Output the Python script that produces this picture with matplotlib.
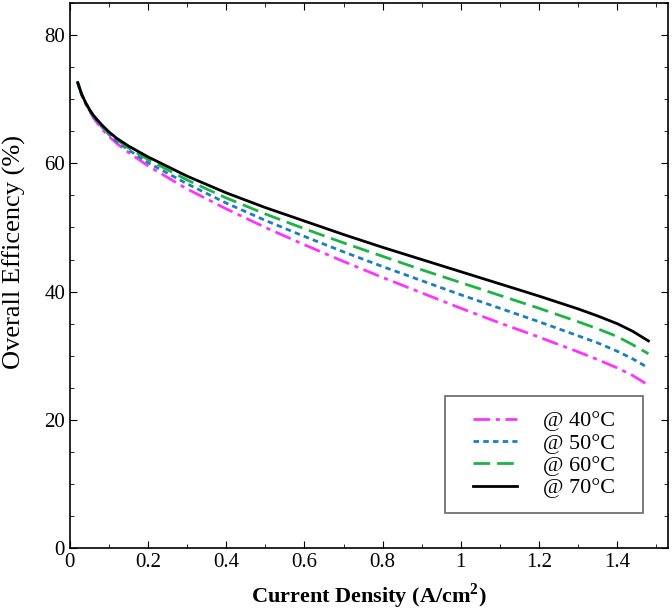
import matplotlib
matplotlib.use("Agg")
import matplotlib.pyplot as plt
from matplotlib.ticker import MultipleLocator
from matplotlib.patches import Rectangle

x = [0.02, 0.03, 0.04, 0.05, 0.06, 0.08, 0.1, 0.12, 0.15, 0.2, 0.3, 0.4, 0.5, 0.6, 0.7, 0.8, 0.9, 1.0, 1.1, 1.2, 1.3, 1.35, 1.4, 1.44, 1.48]
eff_40 = [72.6, 70.7, 69.3, 68.2, 67.1, 65.5, 64.2, 63.1, 61.7, 59.6, 56.0, 52.9, 50.0, 47.3, 44.7, 42.2, 39.8, 37.4, 35.1, 32.9, 30.6, 29.4, 28.1, 26.9, 25.4]
eff_50 = [72.6, 70.7, 69.4, 68.3, 67.3, 65.8, 64.5, 63.4, 62.1, 60.1, 56.8, 53.8, 51.1, 48.6, 46.2, 43.9, 41.7, 39.5, 37.4, 35.3, 33.1, 32.0, 30.7, 29.5, 28.1]
eff_60 = [72.6, 70.8, 69.5, 68.4, 67.4, 66.0, 64.7, 63.7, 62.4, 60.6, 57.4, 54.6, 52.1, 49.8, 47.6, 45.5, 43.4, 41.4, 39.4, 37.4, 35.3, 34.2, 33.0, 31.7, 30.3]
eff_70 = [72.6, 70.8, 69.5, 68.4, 67.5, 66.1, 64.9, 63.9, 62.7, 61.0, 58.0, 55.4, 53.1, 51.0, 48.9, 46.9, 45.0, 43.1, 41.2, 39.3, 37.3, 36.2, 35.0, 33.8, 32.3]
labels = ["@ 40°C", "@ 50°C", "@ 60°C", "@ 70°C"]
xticks = [0, 0.2, 0.4, 0.6, 0.8, 1, 1.2, 1.4]
xticklabels = ["0", "0.2", "0.4", "0.6", "0.8", "1", "1.2", "1.4"]
yticks = [0, 20, 40, 60, 80]

plt.rcParams['font.family'] = ['Liberation Serif', 'DejaVu Serif']
plt.rcParams['mathtext.fontset'] = 'custom'
plt.rcParams['mathtext.rm'] = 'Liberation Serif'
plt.rcParams['mathtext.bf'] = 'Liberation Serif:bold'
fig = plt.figure(figsize=(6.72, 6.13), dpi=100)
ax = fig.add_axes([0.104, 0.106, 0.89, 0.889])

ax.plot(x, eff_40, color="#FF33FF", lw=2, linestyle=(0, (6, 2, 1.5, 2)), label=labels[0])
ax.plot(x, eff_50, color="#1A7FC1", lw=2, linestyle=(0, (2, 1.5)), label=labels[1])
ax.plot(x, eff_60, color="#1DB446", lw=2, linestyle=(0, (6, 2.5)), label=labels[2])
ax.plot(x, eff_70, color="black", lw=2, linestyle="-", label=labels[3])

ax.set_xlim(0, 1.53)
ax.set_ylim(0, 85)
ax.set_xticks(xticks)
ax.set_xticklabels(xticklabels)
ax.set_yticks(yticks)
ax.xaxis.set_minor_locator(MultipleLocator(0.1))
ax.yaxis.set_minor_locator(MultipleLocator(5))
ax.tick_params(which="both", direction="in", top=True, right=True, labelsize=15)
ax.tick_params(which="major", length=5)
ax.tick_params(which="minor", length=3)
for s in ax.spines.values():
    s.set_linewidth(1.2)

ax.set_xlabel("Current Density (A/cm$^{\\mathbf{2}}$)", fontsize=16, fontweight="bold", labelpad=7)
ax.set_ylabel("Overall Efficency (%)", fontsize=19)
ax.yaxis.set_label_coords(-0.074, 0.543)

# legend frame
ax.add_patch(Rectangle((0.627, 0.064), 0.331, 0.215, transform=ax.transAxes,
                       facecolor="white", edgecolor="#666666", lw=1.2, zorder=4))
leg = ax.legend(loc="center", fontsize=16, frameon=False,
                handlelength=2.0, handletextpad=1.15, borderpad=0, labelspacing=0.08,
                borderaxespad=0, bbox_to_anchor=(0.7925, 0.1715))
leg.set_zorder(5)

fig.savefig("out.png", dpi=100)
